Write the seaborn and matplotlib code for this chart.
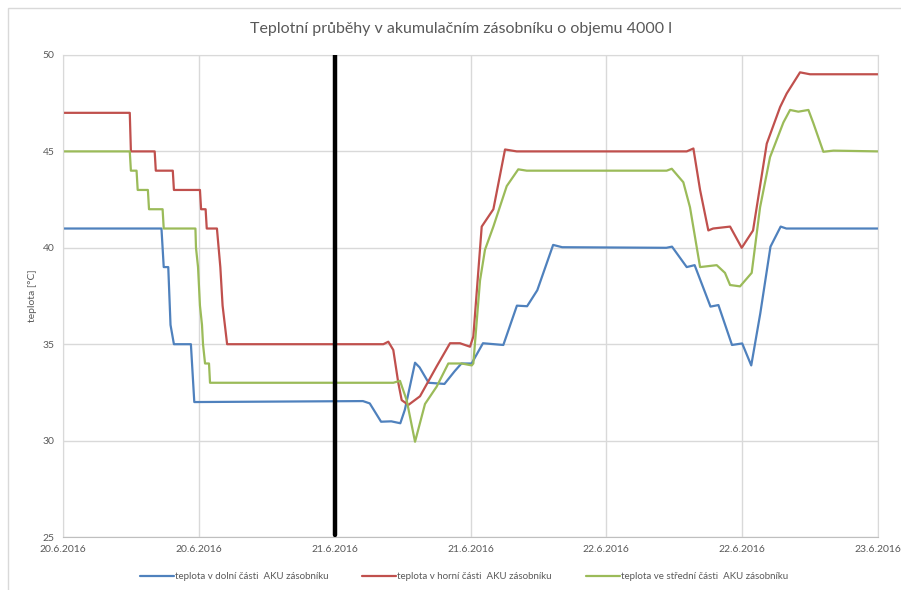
import numpy as np
import pandas as pd
import matplotlib.pyplot as plt
from matplotlib.patches import Rectangle
import seaborn as sns

# hodiny od 20.6.2016 00:00, teploty ve °C
dolni_h = [0, 8.7, 8.9, 9.3, 9.5, 9.8, 11.3, 11.6, 26.5, 27.1, 28.1, 29.0, 29.8, 30.2, 31.1, 31.5,
           32.3, 33.7, 34.6, 35.2, 36.1, 37.1, 38.9, 40.1, 41.0, 41.9, 43.3, 44.1, 53.3, 53.8, 55.1,
           55.8, 57.2, 57.9, 59.1, 60.0, 60.8, 61.6, 62.5, 63.4, 63.9, 72]
dolni_t = [41, 41, 39, 39, 36, 35, 35, 32, 32.05, 31.93, 30.98, 31.0, 30.9, 31.6, 34.04, 33.8,
           33.0, 32.94, 33.6, 34.0, 34.0, 35.05, 34.96, 37.0, 36.97, 37.8, 40.15, 40.03, 40.0, 40.06, 39.0,
           39.1, 36.95, 37.03, 34.96, 35.04, 33.9, 36.6, 40.06, 41.1, 41.0, 41.0]

horni_h = [0, 5.9, 6.0, 8.1, 8.2, 9.7, 9.8, 12.1, 12.2, 12.6, 12.7, 13.6, 13.9, 14.1, 14.3, 14.5,
           28.3, 28.74, 29.18, 29.62, 29.92, 30.51, 31.54, 33.01, 34.19, 35.07, 35.96, 36.25, 36.99,
           38.02, 39.05, 40.08, 55.1, 55.69, 56.28, 57.01, 57.43, 58.93, 59.96, 60.96, 62.17, 63.35,
           63.93, 65.11, 65.99, 72]
horni_t = [47, 47, 45, 45, 44, 44, 43, 43, 42, 42, 41, 41, 39, 37, 36, 35,
           35, 35.13, 34.7, 33.0, 32.1, 31.85, 32.3, 33.85, 35.05, 35.05, 34.87, 35.4, 41.1,
           42.0, 45.1, 45.0, 45.0, 45.15, 43.0, 40.9, 41.0, 41.1, 40.0, 40.9, 45.4, 47.3,
           48.0, 49.1, 49.0, 49.0]

stredni_h = [0, 5.9, 6.0, 6.5, 6.6, 7.5, 7.6, 8.8, 8.9, 11.7, 11.75, 11.93, 12.1, 12.28, 12.37, 12.55,
             12.9, 12.99, 29.18, 29.77, 30.36, 31.1, 31.98, 33.01, 34.04, 35.22, 36.11, 36.25, 36.84,
             37.28, 38.02, 39.2, 40.22, 40.97, 53.33, 53.78, 54.8, 55.39, 56.28, 57.75, 58.48, 58.93,
             59.81, 60.84, 61.58, 62.46, 63.64, 64.23, 64.96, 65.85, 66.29, 67.17, 68.06, 72]
stredni_t = [45, 45, 44, 44, 43, 43, 42, 42, 41, 41, 40, 39, 37, 36, 35, 34,
             34, 33, 33, 33.1, 32.1, 29.94, 31.9, 32.8, 34.0, 34.0, 33.9, 34.0, 38.3,
             39.9, 41.1, 43.2, 44.07, 44.0, 44.0, 44.1, 43.4, 42.1, 39.0, 39.1, 38.7, 38.07,
             38.0, 38.7, 42.1, 44.7, 46.5, 47.15, 47.06, 47.15, 46.46, 44.98, 45.04, 45.0]

nazvy = ['teplota v dolní části  AKU zásobníku',
         'teplota v horní části  AKU zásobníku',
         'teplota ve střední části  AKU zásobníku']
barvy = ['#4F81BD', '#C0504D', '#9BBB59']

x_ticks = [0, 12, 24, 36, 48, 60, 72]
x_labels = ['20.6.2016', '20.6.2016', '21.6.2016', '21.6.2016', '22.6.2016', '22.6.2016', '23.6.2016']
y_ticks = [25, 30, 35, 40, 45, 50]
hranice_h = 24

df = pd.concat([
    pd.DataFrame({'h': dolni_h, 't': dolni_t, 'serie': nazvy[0]}),
    pd.DataFrame({'h': horni_h, 't': horni_t, 'serie': nazvy[1]}),
    pd.DataFrame({'h': stredni_h, 't': stredni_t, 'serie': nazvy[2]}),
], ignore_index=True)

sns.set_style("white")
plt.rcParams['font.family'] = ['Lato', 'DejaVu Sans']

fig = plt.figure(figsize=(9.01, 5.9), dpi=100)
ax = fig.add_axes([0.0699, 0.0898, 0.9046, 0.817])

# rámeček kolem grafu
fig.patches.append(Rectangle((0.009, -0.02), 1.2, 1.006, transform=fig.transFigure,
                             fill=False, edgecolor='#d9d9d9', linewidth=1))

sns.lineplot(data=df, x='h', y='t', hue='serie', palette=barvy, sort=False,
             estimator=None, linewidth=1.6, ax=ax, legend=False)

ax.axvline(hranice_h, ymin=0.004, ymax=1, color='black', linewidth=3.2, zorder=5)

ax.set_xlim(0, 72)
ax.set_ylim(25, 50)
ax.set_xticks(x_ticks)
ax.set_xticklabels(x_labels)
ax.set_yticks(y_ticks)
ax.grid(True, color='#d9d9d9', linewidth=1)
ax.tick_params(length=0, labelsize=7.5, labelcolor='#595959', pad=6)
for s in ax.spines.values():
    s.set_color('#d9d9d9')
ax.spines['bottom'].set_color('#bfbfbf')
ax.set_xlabel('')
ax.set_ylabel('teplota [°C]', fontsize=7.5, color='#595959', labelpad=4)

fig.text(0.512, 0.951, 'Teplotní průběhy v akumulačním zásobníku o objemu 4000 l',
         fontsize=11.5, color='#595959', ha='center', va='center')

handles = [plt.Line2D([], [], color=c, linewidth=1.6) for c in barvy]
fig.legend(handles, nazvy, loc='lower center', bbox_to_anchor=(0.515, 0.0), ncol=3,
           frameon=False, fontsize=7, labelcolor='#595959', handlelength=3.5,
           handletextpad=0.1, columnspacing=3.5)

fig.savefig('out.png', dpi=100)
